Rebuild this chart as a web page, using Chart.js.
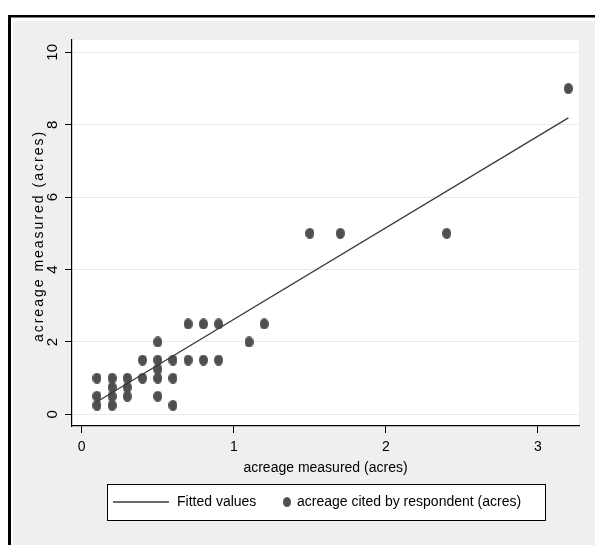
<!DOCTYPE html>
<html>
<head>
<meta charset="utf-8">
<title>acreage measured vs cited</title>
<script src="https://cdn.jsdelivr.net/npm/chart.js@4.4.1/dist/chart.umd.min.js"></script>
<style>
  html, body { margin: 0; padding: 0; background: #fff; }
  canvas { display: block; }
</style>
</head>
<body>
<canvas id="acreChart" width="595" height="545"></canvas>
<script>
// ========== DATA ==========
// measured plot size (x) against the size the respondent gave (y)
const acreMeasured = [
  0.1, 0.1, 0.1,
  0.2, 0.2, 0.2, 0.2,
  0.3, 0.3, 0.3,
  0.4, 0.4,
  0.5, 0.5, 0.5, 0.5, 0.5,
  0.6, 0.6, 0.6,
  0.7, 0.7,
  0.8, 0.8,
  0.9, 0.9,
  1.1, 1.2, 1.5, 1.7, 2.4, 3.2
];
const acreCited = [
  1, 0.5, 0.25,
  1, 0.75, 0.5, 0.25,
  1, 0.75, 0.5,
  1.5, 1,
  2, 1.5, 1.25, 1, 0.5,
  1.5, 1, 0.25,
  2.5, 1.5,
  2.5, 1.5,
  2.5, 1.5,
  2, 2.5, 5, 5, 5, 9
];
// fitted regression line, ends of the range
const fitX = [0.1, 3.2];
const fitY = [0.35, 8.19];

const xTicks = [0, 1, 2, 3];
const yTicks = [0, 2, 4, 6, 8, 10];

const seriesLabels = ["Fitted values", "acreage cited by respondent (acres)"];
const axisTitle = "acreage measured (acres)";

// ========== STYLE ==========
const FONT = "'Liberation Sans', Arial, sans-serif";
const markerColor = "#4f4f4f";
const lineColor = "#3a3a3a";

// Stata-style slightly tall ellipse marker
function makeMarker(w, h) {
  const c = document.createElement("canvas");
  c.width = w;
  c.height = h;
  const g = c.getContext("2d");
  g.fillStyle = markerColor;
  g.beginPath();
  g.ellipse(w / 2, h / 2, w / 2, h / 2, 0, 0, Math.PI * 2);
  g.fill();
  return c;
}
const marker = makeMarker(9, 11);

// ========== BACKGROUND / FRAME ==========
const framePlugin = {
  id: "frame",
  beforeDraw(chart) {
    const ctx = chart.ctx;
    const area = chart.chartArea;
    ctx.save();
    ctx.fillStyle = "#ffffff";
    ctx.fillRect(0, 0, chart.width, chart.height);
    ctx.fillStyle = "#efefef";
    ctx.fillRect(13, 21, chart.width - 13, chart.height - 21);
    ctx.fillStyle = "#000";
    ctx.fillRect(8, 15, 3, chart.height - 15);
    ctx.fillRect(8, 15, chart.width - 8, 2.5);
    ctx.fillStyle = "#ffffff";
    ctx.fillRect(area.left, area.top, area.right - area.left, area.bottom - area.top);
    ctx.restore();
  },
};

// y title is drawn here so it can be letter-spaced like the Stata output
const yTitlePlugin = {
  id: "yTitle",
  afterDraw(chart) {
    const ctx = chart.ctx;
    const area = chart.chartArea;
    const text = chart.options.scales.y.title.text;
    ctx.save();
    ctx.translate(39, (area.top + area.bottom) / 2 + 3);
    ctx.rotate(-Math.PI / 2);
    ctx.font = "14px " + FONT;
    if ("letterSpacing" in ctx) ctx.letterSpacing = "2px";
    ctx.fillStyle = "#000";
    ctx.textAlign = "center";
    ctx.textBaseline = "middle";
    ctx.fillText(text, 0, 0);
    ctx.restore();
  },
};

// ========== LEGEND BOX ==========
const legendPlugin = {
  id: "boxLegend",
  afterDraw(chart) {
    const ctx = chart.ctx;
    const fit = chart.data.datasets[0];
    const pts = chart.data.datasets[1];
    const box = { x: 107, y: 484, w: 438, h: 36 };
    const cy = box.y + box.h / 2;
    ctx.save();
    ctx.fillStyle = "#fff";
    ctx.fillRect(box.x, box.y, box.w, box.h);
    ctx.strokeStyle = "#000";
    ctx.lineWidth = 1;
    ctx.strokeRect(box.x + 0.5, box.y + 0.5, box.w, box.h);

    ctx.strokeStyle = fit.borderColor;
    ctx.lineWidth = fit.borderWidth;
    ctx.beginPath();
    ctx.moveTo(113, cy);
    ctx.lineTo(169, cy);
    ctx.stroke();

    ctx.fillStyle = "#000";
    ctx.font = "14px " + FONT;
    ctx.textBaseline = "middle";
    ctx.textAlign = "left";
    ctx.fillText(fit.label, 177, cy);

    ctx.drawImage(pts.pointStyle, 283, cy - 5, 8, 10);
    ctx.fillStyle = "#000";
    ctx.fillText(pts.label, 297, cy);
    ctx.restore();
  },
};

// ========== CHART ==========
function toPoints(xs, ys) {
  return xs.map((x, i) => ({ x: x, y: ys[i] }));
}

function initializeChart() {
  const ctx = document.getElementById("acreChart");
  new Chart(ctx, {
    type: "scatter",
    data: {
      datasets: [
        {
          type: "line",
          label: seriesLabels[0],
          data: toPoints(fitX, fitY),
          borderColor: lineColor,
          borderWidth: 1.3,
          pointRadius: 0,
          fill: false,
        },
        {
          label: seriesLabels[1],
          data: toPoints(acreMeasured, acreCited),
          pointStyle: marker,
          backgroundColor: markerColor,
          borderColor: markerColor,
        },
      ],
    },
    options: {
      responsive: false,
      animation: false,
      devicePixelRatio: 1,
      layout: { padding: { left: 13, top: 40, right: 16, bottom: 67 } },
      plugins: {
        legend: { display: false },
        tooltip: { enabled: false },
      },
      scales: {
        x: {
          type: "linear",
          min: -0.064,
          max: 3.27,
          afterBuildTicks: (scale) => {
            scale.ticks = xTicks.map((v) => ({ value: v }));
          },
          afterFit: (scale) => {
            scale.height = 52;
          },
          ticks: {
            color: "#000",
            font: { family: FONT, size: 14 },
            padding: 6,
            maxRotation: 0,
          },
          grid: {
            drawOnChartArea: false,
            tickLength: 7,
            tickColor: "#000",
            tickWidth: 1,
          },
          border: { display: true, color: "#000", width: 1.2 },
          title: {
            display: true,
            text: axisTitle,
            color: "#000",
            font: { family: FONT, size: 14 },
            padding: { top: 0, bottom: 1 },
          },
        },
        y: {
          type: "linear",
          min: -0.32,
          max: 10.34,
          afterBuildTicks: (scale) => {
            scale.ticks = yTicks.map((v) => ({ value: v }));
          },
          afterFit: (scale) => {
            scale.width = 59;
          },
          ticks: {
            color: "#000",
            font: { family: FONT, size: 15 },
            padding: 4,
            minRotation: 90,
            maxRotation: 90,
            crossAlign: "center",
          },
          grid: {
            color: "#eaeaea",
            lineWidth: 1,
            tickLength: 7,
            tickColor: "#000",
            tickWidth: 1,
          },
          border: { display: true, color: "#000", width: 1.2 },
          title: {
            display: false,
            text: axisTitle,
          },
        },
      },
    },
    plugins: [framePlugin, yTitlePlugin, legendPlugin],
  });
}

document.addEventListener("DOMContentLoaded", initializeChart);
</script>
</body>
</html>
